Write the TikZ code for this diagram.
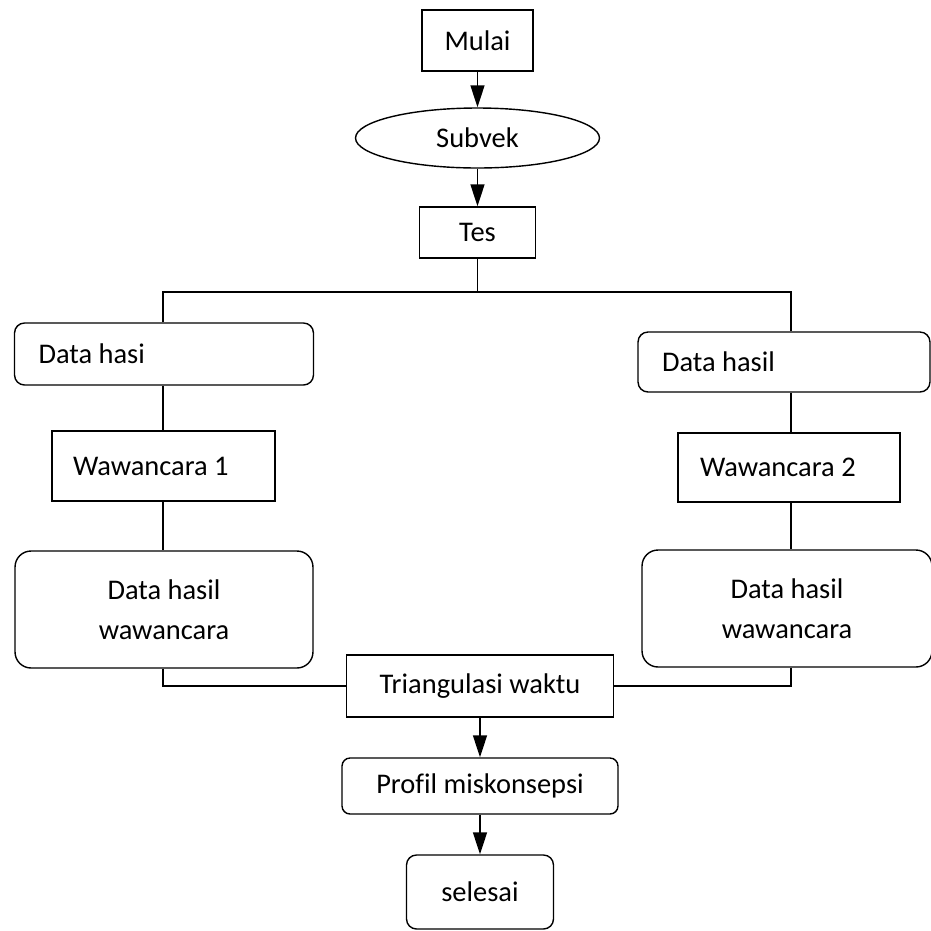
\documentclass[tikz,border=0pt]{standalone}
\usepackage{fontspec}
\setmainfont{Carlito}[Ligatures=NoCommon]
\usetikzlibrary{shapes.geometric,arrows.meta}
\tikzset{
  box/.style={draw,line width=0.8pt,inner sep=0pt,font=\fontsize{16.2}{22.8}\selectfont},
  rbox/.style={box,rounded corners=#1},
  ln/.style={line width=0.8pt},
  arr/.style={line width=0.8pt,-{Triangle[length=0.44cm,width=0.28cm]}}
}
\begin{document}
\begin{tikzpicture}[x=0.02cm,y=-0.02cm]
    \useasboundingbox (0,0) rectangle (931,931);
    \node[box,minimum width=2.22cm,minimum height=1.22cm] (mulai) at (477.5,40.5) {Mulai};
    \node[box,ellipse,minimum width=4.88cm,minimum height=1.2cm] (subvek) at (477.5,138) {Subvek};
    \node[box,minimum width=2.32cm,minimum height=1.02cm] (tes) at (477.5,232.5) {Tes};
    \node[rbox=0.2cm,text width=5.02cm,inner xsep=0.48cm,minimum height=1.24cm,align=flush left] (dh1) at (164,354) {Data hasi};
    \node[box,text width=3.62cm,inner xsep=0.42cm,minimum height=1.4cm,align=flush left] (w1) at (163.5,466) {Wawancara 1};
    \node[rbox=0.32cm,minimum width=5.96cm,minimum height=2.34cm,align=center] (dhw1) at (164,609.5) {Data hasil\\wawancara};
    \node[rbox=0.2cm,text width=4.88cm,inner xsep=0.48cm,minimum height=1.2cm,align=flush left] (dh2) at (784,362) {Data hasil};
    \node[box,text width=3.56cm,inner xsep=0.44cm,minimum height=1.38cm,align=flush left] (w2) at (789,467.5) {Wawancara 2};
    \node[rbox=0.32cm,minimum width=5.8cm,minimum height=2.34cm,align=center] (dhw2) at (787,608.5) {Data hasil\\wawancara};
    \node[box,minimum width=5.34cm,minimum height=1.24cm] (tri) at (480,686) {Triangulasi waktu};
    \node[rbox=0.16cm,minimum width=5.52cm,minimum height=1.12cm] (prof) at (480,786) {Profil miskonsepsi};
    \node[rbox=0.2cm,minimum width=2.94cm,minimum height=1.48cm] (sel) at (480,892) {selesai};
    \coordinate (jl) at (163,292); \coordinate (jr) at (791,292);
    \draw[arr] (mulai) -- (subvek);
    \draw[arr] (subvek) -- (tes);
    \draw[ln] (tes.south) -- (tes.south |- jl);
    \draw[ln] (jl |- dh1.north) -- (jl) -- (jr) -- (jr |- dh2.north);
    \draw[ln] (dh1.south -| jl) -- (w1.north -| jl);
    \draw[ln] (w1.south -| jl) -- (dhw1.north -| jl);
    \draw[ln] (dh2.south -| jr) -- (w2.north -| jr);
    \draw[ln] (w2.south -| jr) -- (dhw2.north -| jr);
    \draw[ln] (dhw1.south -| jl) |- (tri.west);
    \draw[ln] (dhw2.south -| jr) |- (tri.east);
    \draw[arr] (tri) -- (prof);
    \draw[arr] (prof) -- (sel);
\end{tikzpicture}
\end{document}
